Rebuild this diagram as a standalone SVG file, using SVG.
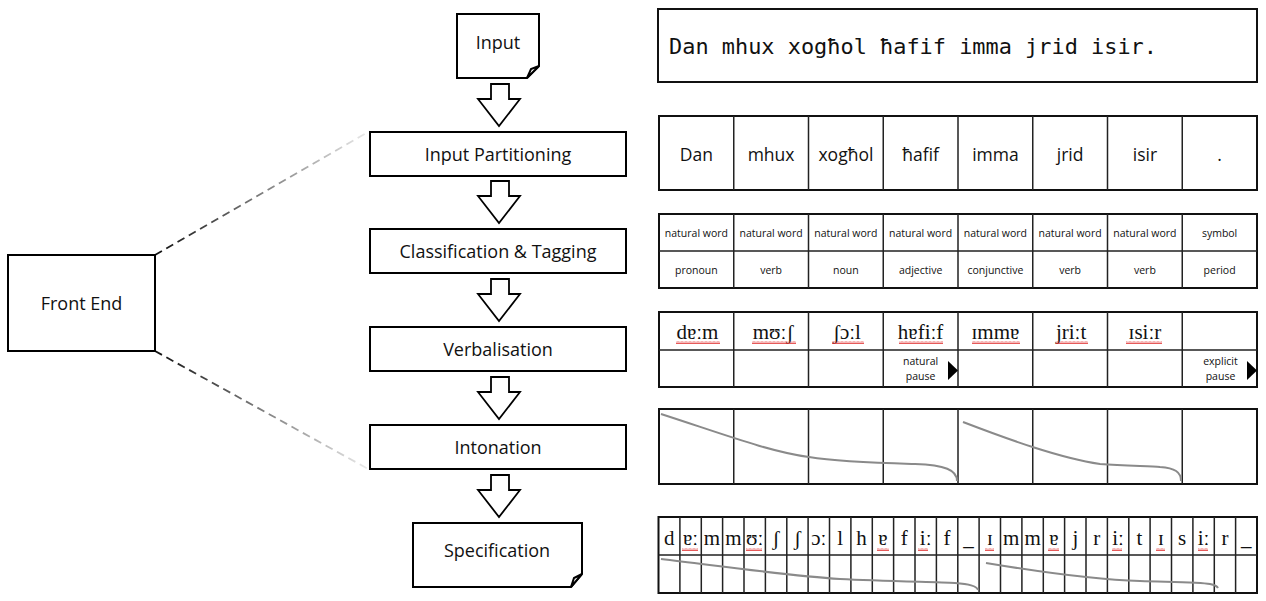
<svg xmlns="http://www.w3.org/2000/svg" xmlns:xlink="http://www.w3.org/1999/xlink" width="1266" height="601" viewBox="0 0 1266 601">
<style>
.box{fill:#fff;stroke:#000;stroke-width:2}
.lbl{font-family:"Open Sans","Liberation Sans",sans-serif;font-size:18px;fill:#111;text-anchor:middle;dominant-baseline:central}
.grid{fill:none;stroke:#222;stroke-width:1.5}
.outer{fill:#fff;stroke:#111;stroke-width:2}
.w{font-family:"Open Sans","Liberation Sans",sans-serif;font-size:17.5px;fill:#111;text-anchor:middle;dominant-baseline:central}
.s{font-family:"Open Sans","Liberation Sans",sans-serif;font-size:10.5px;fill:#111;text-anchor:middle;dominant-baseline:central}
.ipa{font-family:"Liberation Serif","DejaVu Serif",serif;font-size:21px;fill:#111;text-anchor:middle}
.mono{font-family:"DejaVu Sans Mono","Liberation Mono",monospace;font-size:21.5px;fill:#111}
.curve{fill:none;stroke:#8a8a8a;stroke-width:2}
.arrow{fill:#fff;stroke:#000;stroke-width:1.8;stroke-linejoin:miter}
.dash{fill:none;stroke-width:1.8;stroke-dasharray:8 5}
.tri{fill:#000}
.wavy{fill:url(#wv)}
</style>
<defs>
<pattern id="wv" x="0" y="0" width="4" height="3" patternUnits="userSpaceOnUse">
<path d="M0,2.5 L1,0.5 L2,2.5 L3,0.5 L4,2.5" fill="none" stroke="#e03030" stroke-width="0.8"/>
</pattern>
<path id="blk" d="M491,84 H509 V99 H520 L499,126 L478,99 H491 Z"/>
<linearGradient id="gTop" gradientUnits="userSpaceOnUse" x1="155" y1="255" x2="370" y2="131">
<stop offset="0" stop-color="#111"/><stop offset="1" stop-color="#ececec"/>
</linearGradient>
<linearGradient id="gBot" gradientUnits="userSpaceOnUse" x1="155" y1="351" x2="370" y2="470">
<stop offset="0" stop-color="#111"/><stop offset="1" stop-color="#ececec"/>
</linearGradient>
</defs>
<rect width="1266" height="601" fill="#fff"/>

<g id="connectors">
<path class="dash" stroke="url(#gTop)" d="M155,255 L370,131"/>
<path class="dash" stroke="url(#gBot)" d="M155,351 L370,470"/>
<use href="#blk" class="arrow"/>
<use href="#blk" class="arrow" transform="translate(0,97)"/>
<use href="#blk" class="arrow" transform="translate(0,195)"/>
<use href="#blk" class="arrow" transform="translate(0,293)"/>
<use href="#blk" class="arrow" transform="translate(0,391)"/>
</g>

<g id="node-frontend">
<rect class="box" x="8" y="255" width="147" height="96"/>
<text class="lbl" x="81.5" y="303">Front End</text>
</g>

<g id="node-input">
<path class="box" d="M457,14 H539 V66 L527,78 H457 Z"/>
<path class="box" stroke-width="1.2" d="M527,78 L531,69 L539,66 Z"/>
<text class="lbl" x="498" y="42">Input</text>
</g>

<g id="node-partitioning">
<rect class="box" x="370" y="132" width="256" height="44"/>
<text class="lbl" x="498" y="154">Input Partitioning</text>
</g>

<g id="node-classification">
<rect class="box" x="370" y="229" width="256" height="44"/>
<text class="lbl" x="498" y="251">Classification &amp; Tagging</text>
</g>

<g id="node-verbalisation">
<rect class="box" x="370" y="327" width="256" height="44"/>
<text class="lbl" x="498" y="349">Verbalisation</text>
</g>

<g id="node-intonation">
<rect class="box" x="370" y="425" width="256" height="44"/>
<text class="lbl" x="498" y="447">Intonation</text>
</g>

<g id="node-specification">
<path class="box" d="M413,523 H582 V574 L571,587 H413 Z"/>
<path class="box" stroke-width="1.2" d="M571,587 L574,578 L582,574 Z"/>
<text class="lbl" x="497" y="550">Specification</text>
</g>

<g id="table-sentence">
<rect class="outer" x="658" y="9" width="599" height="73"/>
<text class="mono" x="669" y="54" textLength="488" lengthAdjust="spacingAndGlyphs">Dan mhux xogħol ħafif imma jrid isir.</text>
</g>

<g id="table-partition">
<rect class="outer" x="659" y="116" width="598" height="74"/>
<path class="grid" d="M733.75,116V190M808.5,116V190M883.25,116V190M958,116V190M1032.75,116V190M1107.5,116V190M1182.25,116V190"/>
<text class="w" x="696.4" y="154">Dan</text>
<text class="w" x="771.1" y="154">mhux</text>
<text class="w" x="845.9" y="154">xogħol</text>
<text class="w" x="920.6" y="154">ħafif</text>
<text class="w" x="995.4" y="154">imma</text>
<text class="w" x="1070.1" y="154">jrid</text>
<text class="w" x="1144.9" y="154">isir</text>
<text class="w" x="1219.6" y="154">.</text>
</g>

<g id="table-classification">
<rect class="outer" x="659" y="214" width="598" height="74"/>
<path class="grid" d="M659,251H1257M733.75,214V288M808.5,214V288M883.25,214V288M958,214V288M1032.75,214V288M1107.5,214V288M1182.25,214V288"/>
<text class="s" x="696.4" y="233">natural word</text>
<text class="s" x="771.1" y="233">natural word</text>
<text class="s" x="845.9" y="233">natural word</text>
<text class="s" x="920.6" y="233">natural word</text>
<text class="s" x="995.4" y="233">natural word</text>
<text class="s" x="1070.1" y="233">natural word</text>
<text class="s" x="1144.9" y="233">natural word</text>
<text class="s" x="1219.6" y="233">symbol</text>
<text class="s" x="696.4" y="270">pronoun</text>
<text class="s" x="771.1" y="270">verb</text>
<text class="s" x="845.9" y="270">noun</text>
<text class="s" x="920.6" y="270">adjective</text>
<text class="s" x="995.4" y="270">conjunctive</text>
<text class="s" x="1070.1" y="270">verb</text>
<text class="s" x="1144.9" y="270">verb</text>
<text class="s" x="1219.6" y="270">period</text>
</g>

<g id="table-verbalisation">
<rect class="outer" x="659" y="312" width="598" height="75"/>
<path class="grid" d="M659,350H1257M733.75,312V387M808.5,312V387M883.25,312V387M958,312V387M1032.75,312V387M1107.5,312V387M1182.25,312V387"/>
<text class="ipa" x="697.4" y="339">dɐːm</text>
<text class="ipa" x="773.1" y="339">mʊːʃ</text>
<text class="ipa" x="846.9" y="339">ʃɔːl</text>
<text class="ipa" x="920.6" y="339">hɐfiːf</text>
<text class="ipa" x="995.4" y="339">ɪmmɐ</text>
<text class="ipa" x="1071.1" y="339">jriːt</text>
<text class="ipa" x="1144.9" y="339">ɪsiːr</text>
<rect class="wavy" x="676" y="341" width="44" height="3"/>
<rect class="wavy" x="752" y="341" width="44" height="3"/>
<rect class="wavy" x="832" y="341" width="32" height="3"/>
<rect class="wavy" x="899" y="341" width="44" height="3"/>
<rect class="wavy" x="972" y="341" width="48" height="3"/>
<rect class="wavy" x="1056" y="341" width="32" height="3"/>
<rect class="wavy" x="1126" y="341" width="36" height="3"/>
<text class="s" x="920.6" y="361">natural</text>
<text class="s" x="920.6" y="376">pause</text>
<polygon class="tri" points="948,361 958,370.5 948,380"/>
<text class="s" x="1220.5" y="361">explicit</text>
<text class="s" x="1220.5" y="376">pause</text>
<polygon class="tri" points="1247,361 1257,370.5 1247,380"/>
</g>

<g id="table-intonation">
<rect class="outer" x="659" y="409" width="598" height="75"/>
<path class="grid" d="M733.75,409V484M808.5,409V484M883.25,409V484M958,409V484M1032.75,409V484M1107.5,409V484M1182.25,409V484"/>
<path class="curve" d="M661,414 C720,433 770,452 809,457 C840,462 880,463 915,464 C945,465 957,470 957,481"/>
<path class="curve" d="M963,422 C1010,440 1060,458 1100,464 C1125,466 1150,466 1160,467 C1175,468 1181,472 1181,481"/>
</g>

<g id="table-specification">
<rect class="outer" x="658.5" y="517" width="598.5" height="76"/>
<path class="grid" d="M658.5,555H1257
M679.9,517V593M701.3,517V593M722.6,517V593M744,517V593M765.4,517V593M786.8,517V593M808.1,517V593M829.5,517V593M850.9,517V593M872.3,517V593M893.6,517V593M915,517V593M936.4,517V593M957.8,517V593M979.1,517V593M1000.5,517V593M1021.9,517V593M1043.3,517V593M1064.6,517V593M1086,517V593M1107.4,517V593M1128.8,517V593M1150.1,517V593M1171.5,517V593M1192.9,517V593M1214.3,517V593M1235.6,517V593"/>
<g class="ipa">
<text x="669.2" y="545">d</text>
<text x="690.6" y="545">ɐː</text>
<text x="712" y="545">m</text>
<text x="733.3" y="545">m</text>
<text x="754.7" y="545">ʊː</text>
<text x="776.1" y="545">ʃ</text>
<text x="797.4" y="545">ʃ</text>
<text x="818.8" y="545">ɔː</text>
<text x="840.2" y="545">l</text>
<text x="861.6" y="545">h</text>
<text x="882.9" y="545">ɐ</text>
<text x="904.3" y="545">f</text>
<text x="925.7" y="545">iː</text>
<text x="947.1" y="545">f</text>
<text x="968.4" y="545">_</text>
<text x="989.8" y="545">ɪ</text>
<text x="1011.2" y="545">m</text>
<text x="1032.6" y="545">m</text>
<text x="1053.9" y="545">ɐ</text>
<text x="1075.3" y="545">j</text>
<text x="1096.7" y="545">r</text>
<text x="1118.1" y="545">iː</text>
<text x="1139.4" y="545">t</text>
<text x="1160.8" y="545">ɪ</text>
<text x="1182.2" y="545">s</text>
<text x="1203.6" y="545">iː</text>
<text x="1224.9" y="545">r</text>
<text x="1246.3" y="545">_</text>
</g>
<rect class="wavy" x="682" y="548" width="16" height="3"/>
<rect class="wavy" x="746" y="548" width="16" height="3"/>
<rect class="wavy" x="877" y="548" width="12" height="3"/>
<rect class="wavy" x="918" y="548" width="10" height="3"/>
<rect class="wavy" x="985" y="548" width="9" height="3"/>
<rect class="wavy" x="1048" y="548" width="11" height="3"/>
<rect class="wavy" x="1112" y="548" width="10" height="3"/>
<rect class="wavy" x="1156" y="548" width="9" height="3"/>
<rect class="wavy" x="1198" y="548" width="10" height="3"/>
<path class="curve" d="M661,559 C720,566 790,576 840,579 C880,581 930,582 955,583 C970,584 977,586 978,590"/>
<path class="curve" d="M986,563 C1040,572 1100,580 1140,581 C1170,582 1200,582 1210,584 C1215,585 1217,586 1218,588"/>
</g>
</svg>
